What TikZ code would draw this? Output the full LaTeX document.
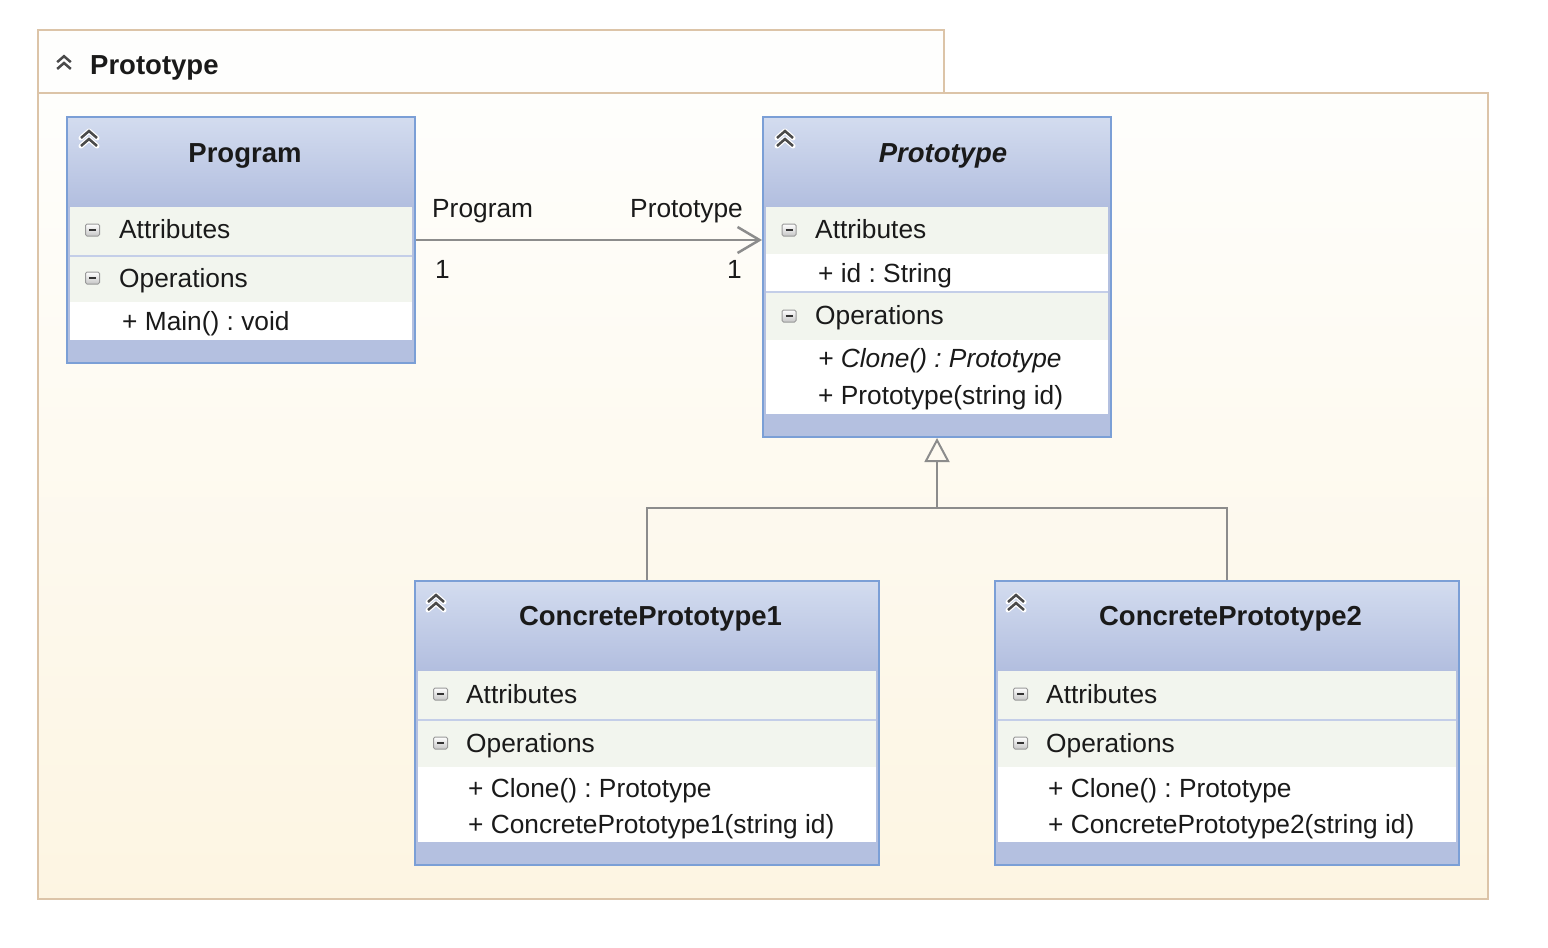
\documentclass[tikz,border=0pt]{standalone}
\usepackage{fontspec}
\setmainfont{Liberation Sans}
\frenchspacing
\usetikzlibrary{arrows.meta,calc}
\definecolor{pkgborder}{HTML}{DCC4A8}
\definecolor{pkgtop}{HTML}{FEFEFC}
\definecolor{pkgbot}{HTML}{FDF5E2}
\definecolor{tabfill}{HTML}{FEFEFD}
\definecolor{clsborder}{HTML}{7B9FD6}
\definecolor{hdrtop}{HTML}{D3DCEF}
\definecolor{hdrbot}{HTML}{B2BEDF}
\definecolor{band}{HTML}{B4C0E0}
\definecolor{rowfill}{HTML}{F2F5EE}
\definecolor{sepline}{HTML}{C4CEE8}
\definecolor{conn}{HTML}{8C8C8C}
\definecolor{txt}{HTML}{1A1A1A}
\definecolor{chevc}{HTML}{4A4A4A}
\tikzset{
  clsframe/.style={draw=clsborder, line width=2pt, inner sep=0pt, fill=none},
  hdr/.style={top color=hdrtop, bottom color=hdrbot, draw=none},
  memtxt/.style={anchor=base west, inner sep=0pt, font=\fontsize{26.3}{30}\selectfont, text=txt},
  memtxtR/.style={anchor=base east, inner sep=0pt, font=\fontsize{26.3}{30}\selectfont, text=txt},
  ttltxt/.style={anchor=base, inner sep=0pt, font=\fontsize{27.5}{32}\selectfont\bfseries, text=txt},
  assoc/.style={draw=conn, line width=2.5pt, -{Straight Barb[length=22pt,width=26pt]}},
  genline/.style={draw=conn, line width=2pt},
  genarrow/.style={draw=conn, line width=2pt, -{Triangle[open,length=24pt,width=25pt]}},
}
\newcommand\chevicon[3][1]{%
  \begin{scope}[shift={(#2,#3)}, scale=#1]
    \draw[white, line width=5pt, line cap=round, line join=round] (-8,-1)--(0,-8)--(8,-1) (-8,7)--(0,0)--(8,7);
    \draw[chevc, line width=2.5pt, line join=miter] (-8,-1)--(0,-8)--(8,-1) (-8,7)--(0,0)--(8,7);
  \end{scope}}
\newcommand\minusicon[2]{%
  \begin{scope}[shift={(#1,#2)}]
    \draw[draw=gray!80, top color=white, bottom color=gray!45, rounded corners=1.5pt, line width=1pt] (-7,-6) rectangle (7,6);
    \draw[black!80, line width=2pt] (-3.5,0) -- (3.5,0);
  \end{scope}}
\begin{document}
\begin{tikzpicture}[x=1pt,y=-1pt]
\useasboundingbox (0,0) rectangle (1548,948);
\fill[white] (0,0) rectangle (1548,948);
% package
\fill[tabfill] (38,30) rectangle (944,93);
\shade[top color=pkgtop, bottom color=pkgbot] (38,93) rectangle (1488,899);
\draw[pkgborder, line width=2pt] (38,93) -- (38,30) -- (944,30) -- (944,93) -- (1488,93) -- (1488,899) -- (38,899) -- cycle;
\draw[pkgborder, line width=2pt] (38,93) -- (944,93);
\chevicon[0.85]{64}{63}
\node[anchor=base west, inner sep=0pt, font=\fontsize{27.5}{32}\selectfont\bfseries, text=txt] (pkgname) at (90,74) {Prototype};

% ---------- Program ----------
\fill[band] (67,117) rectangle (415,363);
\fill[hdr] (67,117) rectangle (415,207);
\fill[rowfill] (70,207) rectangle (412,255);
\fill[sepline] (70,255) rectangle (412,257);
\fill[rowfill] (70,257) rectangle (412,302);
\fill[white] (70,302) rectangle (412,340);
\node[clsframe, minimum width=348pt, minimum height=246pt] (program) at (241,240) {};
\chevicon{89}{139}
\node[ttltxt] (programT) at (245,162) {Program};
\minusicon{92.5}{230}
\node[memtxt] (programA) at (119,238) {Attributes};
\minusicon{92.5}{278}
\node[memtxt] (programO) at (119,287) {Operations};
\node[memtxt] (programM) at (122,330) {+ Main() : void};

% ---------- Prototype ----------
\fill[band] (763,117) rectangle (1111,437);
\fill[hdr] (763,117) rectangle (1111,207);
\fill[rowfill] (766,207) rectangle (1108,254);
\fill[white] (766,254) rectangle (1108,291);
\fill[sepline] (766,291) rectangle (1108,293);
\fill[rowfill] (766,293) rectangle (1108,340);
\fill[white] (766,340) rectangle (1108,414);
\node[clsframe, minimum width=348pt, minimum height=320pt] (prototype) at (937,277) {};
\chevicon{785}{139}
\node[ttltxt, font=\fontsize{27.5}{32}\selectfont\bfseries\itshape] (prototypeT) at (943,162) {Prototype};
\minusicon{789}{230}
\node[memtxt] (prototypeA) at (815,238) {Attributes};
\node[memtxt] (prototypeId) at (818,282) {+ id : String};
\minusicon{789}{316}
\node[memtxt] (prototypeO) at (815,324) {Operations};
\node[memtxt, font=\fontsize{26.3}{30}\selectfont\itshape] (prototypeC) at (818,367) {+ Clone() : Prototype};
\node[memtxt] (prototypeP) at (818,404) {+ Prototype(string id)};

% ---------- ConcretePrototype1 ----------
\fill[band] (415,581) rectangle (879,865);
\fill[hdr] (415,581) rectangle (879,671);
\fill[rowfill] (418,671) rectangle (876,719);
\fill[sepline] (418,719) rectangle (876,721);
\fill[rowfill] (418,721) rectangle (876,767);
\fill[white] (418,767) rectangle (876,842);
\node[clsframe, minimum width=464pt, minimum height=284pt] (cp1) at (647,723) {};
\chevicon{436}{603}
\node[ttltxt] (cp1T) at (650.5,625) {ConcretePrototype1};
\minusicon{440.5}{694}
\node[memtxt] (cp1A) at (466,703) {Attributes};
\minusicon{440.5}{743}
\node[memtxt] (cp1O) at (466,752) {Operations};
\node[memtxt] (cp1C) at (468,797) {+ Clone() : Prototype};
\node[memtxt] (cp1P) at (468,833) {+ ConcretePrototype1(string id)};

% ---------- ConcretePrototype2 ----------
\fill[band] (995,581) rectangle (1459,865);
\fill[hdr] (995,581) rectangle (1459,671);
\fill[rowfill] (998,671) rectangle (1456,719);
\fill[sepline] (998,719) rectangle (1456,721);
\fill[rowfill] (998,721) rectangle (1456,767);
\fill[white] (998,767) rectangle (1456,842);
\node[clsframe, minimum width=464pt, minimum height=284pt] (cp2) at (1227,723) {};
\chevicon{1016}{603}
\node[ttltxt] (cp2T) at (1230.5,625) {ConcretePrototype2};
\minusicon{1020.5}{694}
\node[memtxt] (cp2A) at (1046,703) {Attributes};
\minusicon{1020.5}{743}
\node[memtxt] (cp2O) at (1046,752) {Operations};
\node[memtxt] (cp2C) at (1048,797) {+ Clone() : Prototype};
\node[memtxt] (cp2P) at (1048,833) {+ ConcretePrototype2(string id)};

% ---------- connectors ----------
\draw[assoc] (program.east) -- (program.east -| prototype.west);
\node[memtxt] (roleA) at (432,217) {Program};
\node[memtxtR] (roleB) at (743,217) {Prototype};
\node[memtxt] (multA) at (435,278) {1};
\node[memtxtR] (multB) at (742,278) {1};

\coordinate (jn) at (937,508);
\draw[genline] (cp1.north) |- (jn) -| (cp2.north);
\draw[genarrow] (jn) -- (prototype.south);
\end{tikzpicture}
\end{document}
